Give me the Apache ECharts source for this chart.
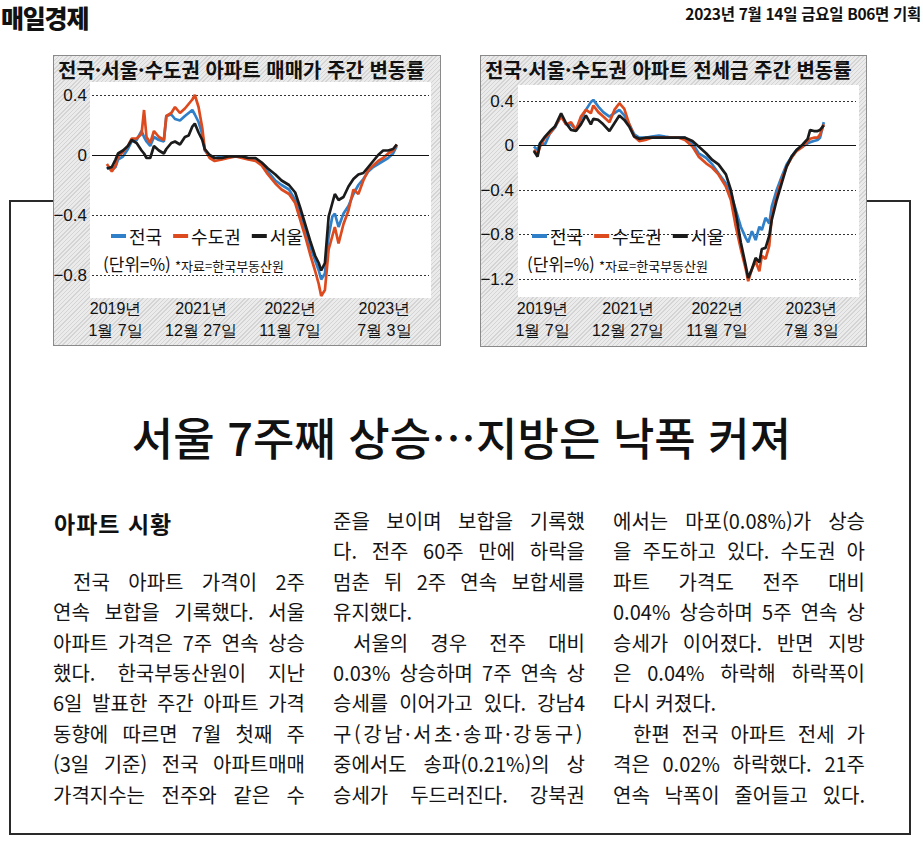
<!DOCTYPE html>
<html lang="ko">
<head>
<meta charset="utf-8">
<script src="https://cdn.jsdelivr.net/npm/echarts@6/dist/echarts.min.js"></script>
<style>
  html, body { margin: 0; padding: 0; background: #fff; }
  #page { position: relative; width: 923px; height: 850px; overflow: hidden; background: #fff;
          font-family: "Noto Sans CJK KR", "Noto Sans", sans-serif; color: #111; }
  .abs { position: absolute; }
  .rule { position: absolute; background: #2a2a2a; }
  .box { position: absolute; box-sizing: border-box; border: 1px solid #8a8a8a; z-index: 2;
         background: repeating-linear-gradient(135deg, #d4d4d4 0px, #d4d4d4 1px, #ebebeb 1px, #ebebeb 3px); }
  .panel { position: absolute; background: #fff; }
  .chart { position: absolute; top: 0; }
  .line { position: absolute; height: 30px; line-height: 30px; font-size: 20px; white-space: nowrap; color: #141414; }
  .line span { white-space: nowrap; }
</style>
</head>
<body>
<div id="page">
  <div class="abs" style="left:1px;top:2px;font-size:25px;font-weight:900;letter-spacing:-1.2px;line-height:30px;">매일경제</div>
  <div class="abs" style="right:2px;top:3px;font-size:15.5px;font-weight:700;letter-spacing:-0.3px;line-height:20px;">2023년 7월 14일 금요일 B06면 기획</div>

  <div class="rule" style="left:9px;top:200px;width:2px;height:635px;"></div>
  <div class="rule" style="left:9px;top:833px;width:902px;height:2px;"></div>
  <div class="rule" style="left:909px;top:200px;width:2px;height:635px;"></div>
  <div class="rule" style="left:9px;top:200px;width:46px;height:2px;"></div>
  <div class="rule" style="left:866px;top:200px;width:45px;height:2px;"></div>

  <div class="box" style="left:53px;top:55px;width:388px;height:291px;">
    <div class="panel" style="left:36px;top:26px;width:341px;height:216px;"></div>
    <div id="chartSale" class="chart" style="left:-12px;width:398px;height:289px;"></div>
  </div>
  <div class="box" style="left:480px;top:55px;width:387px;height:292px;">
    <div class="panel" style="left:37px;top:29px;width:341px;height:212px;"></div>
    <div id="chartJeonse" class="chart" style="left:-12px;width:397px;height:290px;"></div>
  </div>

  <div class="abs" id="headline" style="left:0;top:411px;width:923px;text-align:center;font-size:45px;line-height:52px;font-weight:500;">서울 7주째 상승…지방은 낙폭 커져</div>

  <div class="abs" style="left:54px;top:508px;font-size:23px;font-weight:700;letter-spacing:1px;line-height:30px;">아파트 시황</div>
</div>

<script>
// ---------------- DATA ----------------
const seriesNames = ['전국', '수도권', '서울'];

// x positions = weeks since 2019-01-07
const tickWeeks  = [7, 76, 148, 224];
const tickLabels = ['2019년\n1월 7일', '2021년\n12월 27일', '2022년\n11월 7일', '2023년\n7월 3일'];

// 매매가 주간 변동률 (%)
const saleWeeks = [0,4,7,9,13,17,20,24,28,30, 32,35,38,42,46,48,52,55,59,63,
  66,69,71,74,77,79,83,87,93,98, 104,109,114,120,125,130,136,141,147,152,
  156,160,164,168,171,173,176,179,182,184, 187,191,195,199,203,207,211,215,219,223,
  227,231,234];
const saleNational = [-0.08,-0.10,-0.08,-0.03,-0.01,0.04,0.09,0.10,0.16,0.12,
  0.09,0.06,0.12,0.10,0.09,0.26,0.27,0.24,0.23,0.26,
  0.28,0.30,0.27,0.22,0.14,0.03,-0.01,-0.02,-0.01,-0.01,
  -0.01,-0.01,-0.02,-0.03,-0.06,-0.11,-0.17,-0.20,-0.23,-0.30,
  -0.40,-0.51,-0.61,-0.70,-0.77,-0.83,-0.79,-0.54,-0.41,-0.39,
  -0.48,-0.39,-0.34,-0.26,-0.20,-0.16,-0.11,-0.08,-0.06,-0.04,
  -0.02,0.01,0.06];
const saleCapital = [-0.06,-0.11,-0.07,-0.01,0.02,0.06,0.11,0.11,0.14,0.30,
  0.12,0.08,0.16,0.12,0.10,0.26,0.28,0.32,0.28,0.31,
  0.34,0.37,0.40,0.32,0.18,0.04,-0.02,-0.04,-0.03,-0.02,
  -0.01,-0.02,-0.03,-0.04,-0.07,-0.13,-0.19,-0.23,-0.26,-0.32,
  -0.43,-0.54,-0.66,-0.77,-0.86,-0.94,-0.90,-0.63,-0.54,-0.48,
  -0.59,-0.46,-0.37,-0.23,-0.26,-0.17,-0.10,-0.07,-0.04,-0.02,
  0.01,0.03,0.07];
const saleSeoul = [-0.09,-0.08,-0.03,0.01,0.03,0.06,0.10,0.08,0.03,0.01,
  -0.02,-0.02,0.06,0.03,0.01,0.04,0.08,0.09,0.07,0.12,
  0.13,0.19,0.21,0.15,0.10,0.04,0.00,-0.02,-0.02,-0.01,
  -0.01,-0.01,-0.02,-0.02,-0.05,-0.09,-0.13,-0.17,-0.20,-0.25,
  -0.35,-0.46,-0.57,-0.67,-0.72,-0.77,-0.72,-0.41,-0.32,-0.26,
  -0.30,-0.28,-0.21,-0.16,-0.13,-0.12,-0.08,-0.04,0.00,0.03,
  0.03,0.04,0.07];

// 전세금 주간 변동률 (%)
const jeonseWeeks = [0,3,5,9,13,17,22,26,30,34, 38,42,46,48,52,56,61,65,69,73,
  77,81,85,90,95,101,106,112,117,122, 128,133,139,144,149,155,159,163,167,171,
  173,176,179,182,184,187,190,192,196,200, 204,208,212,217,221,223,226,229,231,234];
const jeonseNational = [-0.01,-0.04,0.02,0.01,0.11,0.16,0.27,0.19,0.19,0.14,
  0.24,0.32,0.39,0.41,0.35,0.30,0.26,0.29,0.32,0.27,
  0.19,0.10,0.07,0.07,0.08,0.09,0.08,0.07,0.07,0.07,
  0.02,-0.07,-0.11,-0.17,-0.25,-0.34,-0.43,-0.58,-0.73,-0.83,
  -0.87,-0.77,-0.85,-0.73,-0.76,-0.65,-0.70,-0.55,-0.40,-0.28,
  -0.17,-0.10,-0.04,-0.01,0.02,0.03,0.04,0.05,0.07,0.21];
const jeonseCapital = [-0.04,-0.08,-0.01,0.07,0.11,0.17,0.26,0.19,0.21,0.14,
  0.26,0.32,0.29,0.36,0.30,0.26,0.21,0.32,0.38,0.33,
  0.19,0.08,0.04,0.05,0.07,0.07,0.07,0.07,0.07,0.05,
  -0.01,-0.10,-0.16,-0.20,-0.26,-0.37,-0.49,-0.73,-0.93,-1.11,
  -1.22,-1.11,-1.04,-1.13,-0.99,-1.02,-0.90,-0.64,-0.46,-0.31,
  -0.19,-0.11,-0.05,-0.01,0.04,0.06,0.07,0.07,0.10,0.19];
const jeonseSeoul = [-0.05,-0.10,0.02,0.08,0.13,0.17,0.29,0.20,0.14,0.13,
  0.19,0.27,0.19,0.24,0.23,0.19,0.13,0.20,0.27,0.23,
  0.17,0.08,0.06,0.07,0.07,0.07,0.07,0.07,0.07,0.07,
  0.04,-0.01,-0.07,-0.13,-0.17,-0.26,-0.40,-0.61,-0.87,-1.08,
  -1.19,-1.11,-1.01,-1.05,-0.93,-0.92,-0.81,-0.67,-0.49,-0.34,
  -0.19,-0.10,-0.04,0.01,0.06,0.14,0.13,0.13,0.14,0.18];

// ---------------- STYLE ----------------
const COLORS = ['#2f80c8', '#dc4a1e', '#1b1b1b'];
const NUMFONT = '"Liberation Sans Narrow", "Liberation Sans", Arial, sans-serif';
const CJK = '"Noto Sans CJK KR", sans-serif';

function fmtY(v) {
  const a = Number(Math.abs(v).toFixed(1));
  return (v < -1e-9 ? '\u2212' : '') + a;
}

function buildChart(elId, cfg) {
  const chart = echarts.init(document.getElementById(elId), null, { renderer: 'svg' });
  const option = {
    animation: false,
    title: {
      text: cfg.title, left: cfg.titleLeft, top: 3, padding: 0,
      textStyle: { fontSize: 20, lineHeight: 20, fontWeight: 'bold', color: '#111', fontFamily: CJK }
    },
    grid: Object.assign({ containLabel: false, outerBoundsMode: 'none' }, cfg.grid),
    legend: {
      data: seriesNames, left: cfg.legendLeft, top: 166, icon: 'rect',
      itemWidth: 15, itemHeight: 4, itemGap: 11,
      textStyle: { fontSize: 18, color: '#111', fontFamily: CJK, padding: [0, 0, 0, -2] }
    },
    xAxis: {
      type: 'value', min: -12, max: 260,
      axisLine: { show: false }, axisTick: { show: false }, splitLine: { show: false },
      axisLabel: {
        customValues: tickWeeks,
        formatter: v => { const i = tickWeeks.indexOf(v); return i >= 0 ? tickLabels[i] : ''; },
        fontSize: 16, lineHeight: 22, color: '#111', fontFamily: NUMFONT, margin: cfg.labelMargin
      }
    },
    yAxis: {
      type: 'value', min: cfg.yMin, max: cfg.yMax, interval: 0.4,
      axisLine: { show: false }, axisTick: { show: false },
      splitLine: { show: true, lineStyle: { color: '#333', width: 1, type: [2, 2] } },
      axisLabel: { formatter: fmtY, fontSize: 17, lineHeight: 17, color: '#111', fontFamily: NUMFONT, margin: 5 }
    },
    graphic: [
      { type: 'text', left: cfg.noteLeft, top: 199,
        style: { text: '(단위=%)', fontSize: 17, fill: '#111', fontFamily: CJK } },
      { type: 'text', left: cfg.noteLeft + 72, top: 203,
        style: { text: '*자료=한국부동산원', fontSize: 13, fill: '#111', fontFamily: CJK } }
    ],
    series: cfg.values.map((vals, i) => ({
      type: 'line', name: seriesNames[i],
      data: cfg.weeks.map((w, j) => [w, vals[j]]),
      showSymbol: false, symbol: 'none', clip: false, z: 3 + i,
      lineStyle: { width: 2.7, color: COLORS[i] },
      itemStyle: { color: COLORS[i] },
      markLine: i === 0 ? {
        silent: true, symbol: ['none', 'none'], label: { show: false },
        lineStyle: { color: '#111', width: 1, type: 'solid' },
        data: [{ yAxis: 0 }]
      } : undefined
    }))
  };
  chart.setOption(option);
  return chart;
}

// chart containers start 12px left of their boxes so the minus signs have room
buildChart('chartSale', {
  title: '전국·서울·수도권 아파트 매매가 주간 변동률',
  titleLeft: 16,
  weeks: saleWeeks,
  values: [saleNational, saleCapital, saleSeoul],
  yMin: -0.8, yMax: 0.4,
  grid: { left: 50, right: 11, top: 39, bottom: 70 },
  labelMargin: 22,
  legendLeft: 64,
  noteLeft: 61
});

buildChart('chartJeonse', {
  title: '전국·서울·수도권 아파트 전세금 주간 변동률',
  titleLeft: 16,
  weeks: jeonseWeeks,
  values: [jeonseNational, jeonseCapital, jeonseSeoul],
  yMin: -1.2, yMax: 0.4,
  grid: { left: 50, right: 10, top: 45, bottom: 67 },
  labelMargin: 18,
  legendLeft: 58,
  noteLeft: 58
});

// ---------------- ARTICLE ----------------
// [text, indent, justify]
const column1 = [
  ['전국 아파트 가격이 2주', true, true],
  ['연속 보합을 기록했다. 서울', false, true],
  ['아파트 가격은 7주 연속 상승', false, true],
  ['했다. 한국부동산원이 지난', false, true],
  ['6일 발표한 주간 아파트 가격', false, true],
  ['동향에 따르면 7월 첫째 주', false, true],
  ['(3일 기준) 전국 아파트매매', false, true],
  ['가격지수는 전주와 같은 수', false, true]
];
const column2 = [
  ['준을 보이며 보합을 기록했', false, true],
  ['다. 전주 60주 만에 하락을', false, true],
  ['멈춘 뒤 2주 연속 보합세를', false, true],
  ['유지했다.', false, false],
  ['서울의 경우 전주 대비', true, true],
  ['0.03% 상승하며 7주 연속 상', false, true],
  ['승세를 이어가고 있다. 강남4', false, true],
  ['구(강남·서초·송파·강동구)', false, true],
  ['중에서도 송파(0.21%)의 상', false, true],
  ['승세가 두드러진다. 강북권', false, true]
];
const column3 = [
  ['에서는 마포(0.08%)가 상승', false, true],
  ['을 주도하고 있다. 수도권 아', false, true],
  ['파트 가격도 전주 대비', false, true],
  ['0.04% 상승하며 5주 연속 상', false, true],
  ['승세가 이어졌다. 반면 지방', false, true],
  ['은 0.04% 하락해 하락폭이', false, true],
  ['다시 커졌다.', false, false],
  ['한편 전국 아파트 전세 가', true, true],
  ['격은 0.02% 하락했다. 21주', false, true],
  ['연속 낙폭이 줄어들고 있다.', false, true]
];

const columnsLayout = [
  { x: 53, start: 2, lines: column1 },
  { x: 333, start: 0, lines: column2 },
  { x: 613, start: 0, lines: column3 }
];
const COL_W = 252, INDENT = 20, LINE_TOP0 = 506, LINE_STEP = 30.4;

const page = document.getElementById('page');
const lineEls = [];
columnsLayout.forEach(col => {
  col.lines.forEach((ln, k) => {
    const [text, indent, justify] = ln;
    const div = document.createElement('div');
    div.className = 'line';
    const width = COL_W - (indent ? INDENT : 0);
    div.style.left = (col.x + (indent ? INDENT : 0)) + 'px';
    div.style.top = (LINE_TOP0 + (col.start + k) * LINE_STEP) + 'px';
    div.style.width = width + 'px';
    const span = document.createElement('span');
    span.textContent = text;
    div.appendChild(span);
    page.appendChild(div);
    lineEls.push({ span, width, justify, text });
  });
});

function fitLines() {
  lineEls.forEach(({ span, width, justify, text }) => {
    span.style.letterSpacing = '0px';
    span.style.wordSpacing = '0px';
    const w = span.getBoundingClientRect().width;
    const n = text.length;
    if (w > width) {
      span.style.letterSpacing = ((width - w) / n) + 'px';
    } else if (justify) {
      const spaces = (text.match(/ /g) || []).length;
      if (spaces > 0) span.style.wordSpacing = ((width - w) / spaces) + 'px';
      else span.style.letterSpacing = ((width - w) / n) + 'px';
    }
  });
}
fitLines();
if (document.fonts && document.fonts.ready) document.fonts.ready.then(fitLines);
</script>
</body>
</html>
